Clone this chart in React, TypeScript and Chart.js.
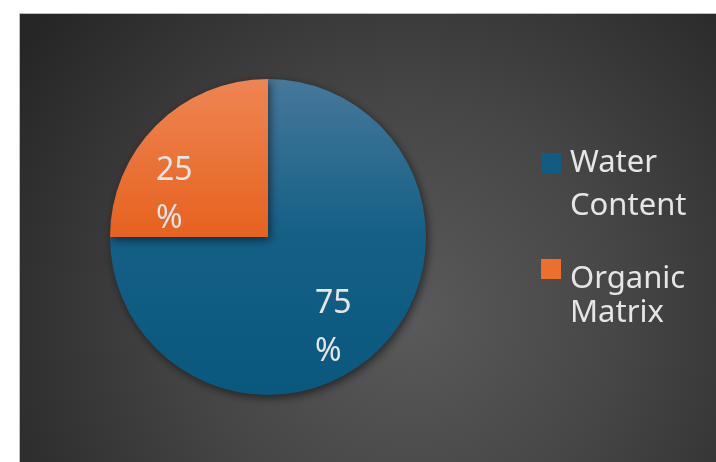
import React, { useEffect, useRef } from "react";
import { Chart, registerables } from "chart.js";

Chart.register(...registerables);

const categories = ["Water Content", "Organic Matrix"];
const values = [75, 25];
const percentLabels = ["75\n%", "25\n%"];
const sliceColors = [
  ["#46789a", "#145f86", "#0a587e"],
  ["#ee8553", "#e6621f", "#e6621f"],
];
const legendColors = ["#125c84", "#ec6f2e"];

const W = 696;
const H = 448;
const FONT = '"Noto Sans", "Open Sans", sans-serif';
const TEXT = "#e6e6e6";

const bgPlugin = {
  id: "bg",
  beforeDraw(chart: any) {
    const ctx = chart.ctx;
    const g = ctx.createRadialGradient(390, 300, 0, 390, 300, 470);
    g.addColorStop(0, "#5a5a5a");
    g.addColorStop(0.45, "#464646");
    g.addColorStop(1, "#262626");
    ctx.save();
    ctx.fillStyle = g;
    ctx.fillRect(0, 0, chart.width, chart.height);
    ctx.restore();
  },
};

const shadowPlugin = {
  id: "shadow",
  beforeDatasetsDraw(chart: any) {
    const ctx = chart.ctx;
    ctx.save();
    ctx.shadowColor = "rgba(0,0,0,0.55)";
    ctx.shadowBlur = 10;
    ctx.shadowOffsetX = 2;
    ctx.shadowOffsetY = 3;
  },
  afterDatasetsDraw(chart: any) {
    chart.ctx.restore();
  },
};

const labelPlugin = {
  id: "sliceLabels",
  afterDatasetsDraw(chart: any) {
    const ctx = chart.ctx;
    const meta = chart.getDatasetMeta(0);
    const offsets = [
      { dx: 47, dy: 67 },
      { dx: -112, dy: -66 },
    ];
    ctx.save();
    ctx.font = `32px ${FONT}`;
    ctx.fillStyle = TEXT;
    ctx.textAlign = "left";
    ctx.textBaseline = "middle";
    meta.data.forEach((arc: any, i: number) => {
      const lines = percentLabels[i].split("\n");
      const x = arc.x + offsets[i].dx;
      const y = arc.y + offsets[i].dy;
      lines.forEach((ln, j) => ctx.fillText(ln, x, y + j * 48));
    });
    ctx.restore();
  },
};

const legendPlugin = {
  id: "customLegend",
  afterDraw(chart: any) {
    const ctx = chart.ctx;
    const items = [
      { boxY: 139, lineYs: [149, 192] },
      { boxY: 245, lineYs: [265, 299] },
    ];
    ctx.save();
    ctx.font = `31px ${FONT}`;
    ctx.textAlign = "left";
    ctx.textBaseline = "middle";
    categories.forEach((c, i) => {
      const it = items[i];
      ctx.fillStyle = legendColors[i];
      ctx.fillRect(521, it.boxY, 20, 20);
      ctx.fillStyle = TEXT;
      c.split(" ").forEach((w, j) => ctx.fillText(w, 550, it.lineYs[j]));
    });
    ctx.restore();
  },
};

export default function App() {
  const ref = useRef<HTMLCanvasElement>(null);
  useEffect(() => {
    if (!ref.current) return;
    const chart = new Chart(ref.current, {
      type: "pie",
      data: {
        labels: categories,
        datasets: [
          {
            data: values,
            borderWidth: 0,
            hoverOffset: 0,
            backgroundColor: (c: any) => {
              const chartArea = c.chart.chartArea;
              const idx = c.dataIndex;
              if (!chartArea) return legendColors[idx];
              const ctx = c.chart.ctx;
              const g = ctx.createLinearGradient(0, chartArea.top, 0, chartArea.bottom);
              const cols = sliceColors[idx];
              g.addColorStop(0, cols[0]);
              g.addColorStop(0.5, cols[1]);
              g.addColorStop(1, cols[2]);
              return g;
            },
          },
        ],
      },
      options: {
        animation: false,
        responsive: false,
        layout: { padding: { left: 90, right: 290, top: 65, bottom: 67 } },
        plugins: {
          legend: { display: false },
          tooltip: { enabled: false },
        },
      },
      plugins: [bgPlugin, shadowPlugin, labelPlugin, legendPlugin],
    });
    return () => chart.destroy();
  }, []);
  return (
    <div style={{ position: "absolute", left: 0, top: 0, width: 716, height: 462, background: "#ffffff" }}>
      <div style={{ position: "absolute", left: 19, top: 13, width: W + 1, height: H + 1, background: "#bdbdbd" }} />
      <canvas
        ref={ref}
        width={W}
        height={H}
        style={{ position: "absolute", left: 20, top: 14, width: W, height: H }}
      />
    </div>
  );
}
